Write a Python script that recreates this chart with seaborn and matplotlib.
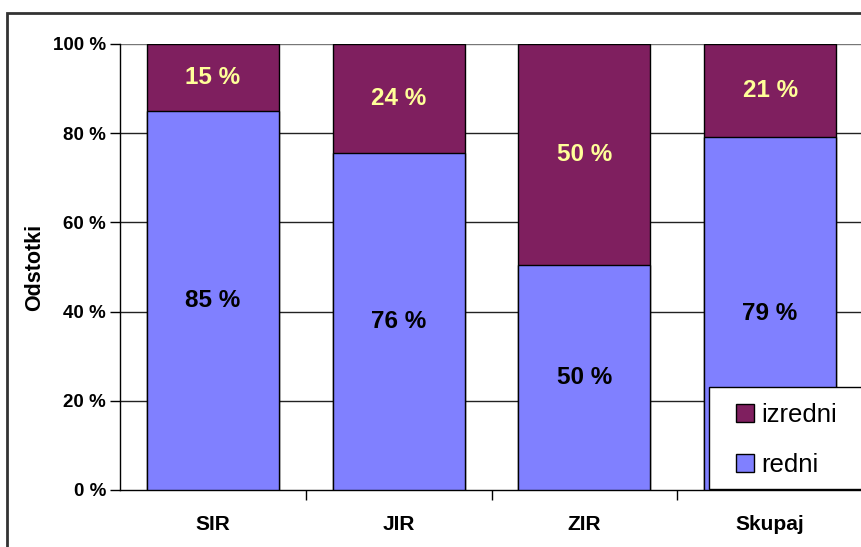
import matplotlib
matplotlib.use("Agg")
import matplotlib.pyplot as plt
import matplotlib.patches as mpatches
import seaborn as sns
import pandas as pd

OUTPUT_FILE = "out.png"

categories = ["SIR", "JIR", "ZIR", "Skupaj"]
redni = [84.9, 75.6, 50.4, 79.1]
izredni = [15.1, 24.4, 49.6, 20.9]
redni_labels = ["85 %", "76 %", "50 %", "79 %"]
izredni_labels = ["15 %", "24 %", "50 %", "21 %"]
y_ticks = [0, 20, 40, 60, 80, 100]

COL_REDNI = "#8080FF"
COL_IZREDNI = "#7F1F5F"
COL_TEXT_TOP = "#FFFF99"

W, H = 862, 547


def main():
    sns.set_style("white")
    plt.rcParams['font.family'] = ['Liberation Sans', 'DejaVu Sans']
    plt.rcParams['text.color'] = 'black'
    plt.rcParams['xtick.color'] = 'black'
    plt.rcParams['ytick.color'] = 'black'
    plt.rcParams['axes.labelcolor'] = 'black'

    df = pd.DataFrame({"kategorija": categories, "redni": redni, "izredni": izredni})
    df["skupaj"] = df["redni"] + df["izredni"]

    fig = plt.figure(figsize=(W / 100, H / 100), dpi=100)
    ax = fig.add_axes([120 / W, 57 / H, 743 / W, 446 / H])

    # grid first so bars sit on top
    for t in y_ticks[1:]:
        ax.axhline(t, color="#222222" if t < 100 else "#777777", lw=1, zorder=0)

    # stacked: full height in izredni colour, redni drawn over it
    sns.barplot(data=df, x="kategorija", y="skupaj", color=COL_IZREDNI, width=0.71,
                edgecolor="black", linewidth=1, saturation=1, ax=ax, zorder=2)
    sns.barplot(data=df, x="kategorija", y="redni", color=COL_REDNI, width=0.71,
                edgecolor="black", linewidth=1, saturation=1, ax=ax, zorder=3)

    for i in range(len(categories)):
        ax.text(i, redni[i] / 2, redni_labels[i], ha="center", va="center",
                fontsize=17.5, fontweight="bold", color="black", zorder=5)
        ax.text(i, redni[i] + izredni[i] / 2, izredni_labels[i], ha="center", va="center",
                fontsize=17.5, fontweight="bold", color=COL_TEXT_TOP, zorder=5)

    ax.set_xlim(-0.5, len(categories) - 0.5)
    ax.set_ylim(0, 100)
    ax.set_yticks(y_ticks)
    ax.set_yticklabels([f"{t} %" for t in y_ticks], fontsize=13.5, fontweight="bold")
    ax.set_xticks(range(len(categories)))
    ax.set_xticklabels(categories, fontsize=15, fontweight="bold")
    ax.set_xlabel("")
    ax.set_ylabel("Odstotki", fontsize=15.5, fontweight="bold", labelpad=6)

    # category separator ticks like Excel
    ax.set_xticks([i + 0.5 for i in range(len(categories) - 1)], minor=True)
    ax.tick_params(axis="x", which="major", length=0, pad=18)
    ax.tick_params(axis="x", which="minor", length=7, width=1, direction="out", bottom=True)
    ax.tick_params(axis="y", length=7, width=1, direction="out", left=True, pad=3)

    for side in ["top", "right"]:
        ax.spines[side].set_visible(False)
    for side in ["left", "bottom"]:
        ax.spines[side].set_color("black")
        ax.spines[side].set_linewidth(1)

    # legend box runs off the right edge
    box = mpatches.Rectangle((709 / W, 1 - 489 / H), 0.3, (489 - 387) / H, transform=fig.transFigure,
                             facecolor="white", edgecolor="black", lw=1, zorder=9, clip_on=False)
    fig.patches.append(box)
    handles = [mpatches.Patch(facecolor=COL_IZREDNI, edgecolor="black", label="izredni"),
               mpatches.Patch(facecolor=COL_REDNI, edgecolor="black", label="redni")]
    leg = fig.legend(handles=handles, loc="center left", bbox_to_anchor=(736 / W, 1 - 440 / H),
                     fontsize=18.5, frameon=False, borderpad=0, labelspacing=1.0,
                     handlelength=0.7, handleheight=0.7, handletextpad=0.3, borderaxespad=0)
    leg.set_zorder(10)

    # outer chart frame, runs off the right and bottom edges
    frame = mpatches.Rectangle((7 / W, -0.1), 1.2, 1 - 13 / H + 0.1, transform=fig.transFigure,
                               fill=False, edgecolor="#333333", lw=2, clip_on=False)
    fig.patches.append(frame)

    fig.savefig(OUTPUT_FILE, dpi=100)


if __name__ == "__main__":
    main()
